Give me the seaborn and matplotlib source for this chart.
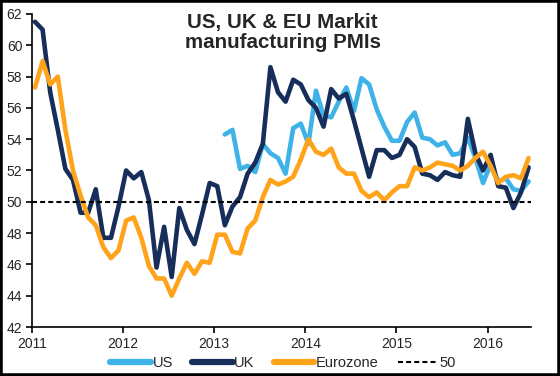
import numpy as np
import pandas as pd
import matplotlib
matplotlib.use("Agg")
import matplotlib.pyplot as plt
from matplotlib.lines import Line2D
from matplotlib.patches import Rectangle
import seaborn as sns

# --- data (monthly, Jan 2011 .. Jun 2016) ---
uk_pmi = [61.5, 61.0, 57.0, 54.6, 52.1, 51.4, 49.3, 49.3, 50.8, 47.7, 47.7, 49.7,
          52.0, 51.5, 51.9, 50.1, 45.8, 48.4, 45.2, 49.6, 48.2, 47.3, 49.2, 51.2,
          51.0, 48.5, 49.7, 50.3, 51.8, 52.5, 53.7, 58.6, 57.0, 56.4, 57.8, 57.5,
          56.5, 56.0, 54.8, 57.2, 56.6, 56.9, 55.2, 53.4, 51.6, 53.3, 53.3, 52.8,
          53.0, 54.0, 53.5, 51.8, 51.7, 51.4, 51.9, 51.7, 51.6, 55.3, 53.1, 52.0,
          53.0, 51.0, 50.9, 49.6, 50.6, 52.2]
ez_pmi = [57.3, 59.0, 57.5, 58.0, 54.6, 52.0, 50.4, 49.0, 48.5, 47.1, 46.4, 46.9,
          48.8, 49.0, 47.7, 45.9, 45.1, 45.1, 44.0, 45.1, 46.1, 45.4, 46.2, 46.1,
          47.9, 47.9, 46.8, 46.7, 48.3, 48.8, 50.3, 51.4, 51.1, 51.3, 51.6, 52.7,
          54.0, 53.2, 53.0, 53.4, 52.2, 51.8, 51.8, 50.7, 50.3, 50.6, 50.1, 50.6,
          51.0, 51.0, 52.2, 52.0, 52.2, 52.5, 52.4, 52.3, 52.0, 52.3, 52.8, 53.2,
          52.3, 51.2, 51.6, 51.7, 51.5, 52.8]
# US series starts Feb 2013
us_start = 25
us_pmi = [54.3, 54.6, 52.1, 52.3, 51.9, 53.7, 53.1, 52.8, 51.8, 54.7, 55.0,
          53.7, 57.1, 55.5, 55.4, 56.4, 57.3, 55.8, 57.9, 57.5, 55.9, 54.8, 53.9,
          53.9, 55.1, 55.7, 54.1, 54.0, 53.6, 53.8, 53.0, 53.1, 54.1, 52.8, 51.2,
          52.4, 51.3, 51.5, 50.8, 50.7, 51.3]
year_ticks = [2011, 2012, 2013, 2014, 2015, 2016]
y_ticks = [42, 44, 46, 48, 50, 52, 54, 56, 58, 60, 62]

months = np.arange(len(uk_pmi))
x_all = 2011 + (months + 0.4) / 12.0
x_us = x_all[us_start:]

df = pd.DataFrame({"x": x_all, "UK": uk_pmi, "Eurozone": ez_pmi})
df_us = pd.DataFrame({"x": x_us, "US": us_pmi})

c_us = "#3FB3E8"
c_uk = "#172D5A"
c_ez = "#FFA31A"

sns.set_style("ticks")
plt.rcParams["font.family"] = ["Liberation Sans", "DejaVu Sans"]

fig = plt.figure(figsize=(5.6, 3.76), dpi=100)
ax = fig.add_axes([0.0571, 0.1303, 0.8912, 0.8325])

sns.lineplot(data=df_us, x="x", y="US", ax=ax, color=c_us, lw=3.3)
sns.lineplot(data=df, x="x", y="UK", ax=ax, color=c_uk, lw=3.3)
sns.lineplot(data=df, x="x", y="Eurozone", ax=ax, color=c_ez, lw=3.3)
ax.axhline(50, color="black", lw=1.5, ls=(0, (2.4, 1.5)), zorder=3)

ax.set_xlim(2011, 2016.477)
ax.set_ylim(42, 62)
ax.set_xticks(year_ticks)
ax.set_xticklabels([str(y) for y in year_ticks])
ax.set_yticks(y_ticks)
ax.set_xlabel("")
ax.set_ylabel("")
ax.tick_params(axis="both", labelsize=10, length=4, width=1.2, color="black", pad=3)
for s in ["top", "right"]:
    ax.spines[s].set_visible(False)
for s in ["left", "bottom"]:
    ax.spines[s].set_color("black")
    ax.spines[s].set_linewidth(1.2)

fig.text(0.505, 0.965, "US, UK & EU Markit\nmanufacturing PMIs", ha="center", va="top",
         fontsize=14.8, fontweight="bold", linespacing=1.05)

handles = [Line2D([], [], color=c_us, lw=4.5),
           Line2D([], [], color=c_uk, lw=4.5),
           Line2D([], [], color=c_ez, lw=4.5),
           Line2D([], [], color="black", lw=1.5, ls=(0, (2.4, 1.5)))]
fig.legend(handles, ["US", "UK", "Eurozone", "50"], loc="center", bbox_to_anchor=(0.506, 0.034),
           ncol=4, frameon=False, fontsize=10.5, handlelength=2.8, handletextpad=0.1,
           columnspacing=1.3, borderpad=0)

fig.patches.append(Rectangle((0, 0), 1, 1, transform=fig.transFigure, fill=False,
                             ec="black", lw=4, zorder=10))

fig.savefig("out.png", dpi=100)
